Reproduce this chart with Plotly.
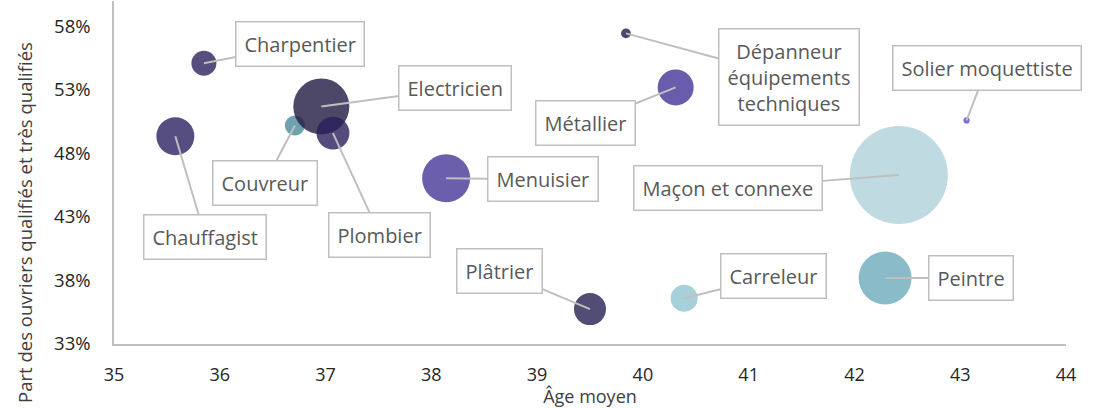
import plotly.graph_objects as go


# ---------------------------------------
# Data
# ---------------------------------------

metiers = [
    "Chauffagist",
    "Charpentier",
    "Couvreur",
    "Electricien",
    "Plombier",
    "Menuisier",
    "Plâtrier",
    "Dépanneur équipements techniques",
    "Métallier",
    "Carreleur",
    "Maçon et connexe",
    "Peintre",
    "Solier moquettiste",
]

age_moyen = [35.58, 35.85, 36.71, 36.96, 37.07, 38.14, 39.50, 39.84, 40.31, 40.39, 42.42, 42.29, 43.06]

part_qualifies = [0.4935, 0.551, 0.502, 0.517, 0.496, 0.4605, 0.3575, 0.5745, 0.532, 0.366, 0.463, 0.382, 0.506]

effectifs = [15.0, 6.5, 4.2, 32.7, 11.3, 24.0, 10.7, 1.0, 13.5, 7.6, 100.0, 29.2, 0.4]

y_ticks = [0.33, 0.38, 0.43, 0.48, 0.53, 0.58]
x_ticks = [35, 36, 37, 38, 39, 40, 41, 42, 43, 44]


# ---------------------------------------
# Styles
# ---------------------------------------

couleurs = [
    "#2c2260", "#2d225e", "#4a8b9c", "#221a42", "#2a1f5b", "#463697", "#272052",
    "#1f194c", "#453397", "#92c4d2", "#b0d1db", "#6daabb", "#5f4bce",
]

# label box offset (pixels) from bubble centre
decalages = {
    "Chauffagist": (30, 101),
    "Charpentier": (96, -19),
    "Couvreur": (-30, 57),
    "Electricien": (134, -18),
    "Plombier": (47, 102),
    "Menuisier": (97, 1),
    "Plâtrier": (-91, -38),
    "Dépanneur équipements techniques": (163, 44),
    "Métallier": (-90, 36),
    "Carreleur": (89, -22),
    "Maçon et connexe": (-171, 13),
    "Peintre": (86, 0),
    "Solier moquettiste": (20, -52),
}

textes = {
    "Dépanneur équipements techniques": "Dépanneur<br>équipements<br>techniques",
}

police = "Open Sans"

fig = go.Figure(

    go.Scatter(

        x=age_moyen,

        y=part_qualifies,

        mode="markers",

        text=metiers,

        marker=dict(
            size=effectifs,
            sizemode="area",
            sizeref=2 * max(effectifs) / (98 ** 2),
            color=couleurs,
            opacity=0.8,
            line=dict(width=0),
        ),

        hoverinfo="text",
    )
)

for m, x, y in zip(metiers, age_moyen, part_qualifies):
    ax, ay = decalages[m]
    fig.add_annotation(
        x=x,
        y=y,
        ax=ax,
        ay=ay,
        text=textes.get(m, m),
        showarrow=True,
        arrowhead=0,
        arrowwidth=2,
        arrowcolor="#bfbfbf",
        standoff=0,
        bgcolor="white",
        bordercolor="#bfbfbf",
        borderwidth=1.5,
        borderpad=8,
        font=dict(family=police, size=20, color="#595959"),
    )

# y title, centred on the whole chart height like the original
fig.add_annotation(
    text="Part des ouvriers qualifiés et très qualifiés",
    xref="paper",
    yref="paper",
    x=-0.0935,
    y=0.356,
    textangle=-90,
    showarrow=False,
    xanchor="center",
    yanchor="middle",
    font=dict(family=police, size=18.5, color="#404040"),
)

fig.update_layout(

    width=1095,

    height=408,

    paper_bgcolor="white",

    plot_bgcolor="white",

    margin=dict(l=114, r=29, t=1, b=64),

    showlegend=False,

    font=dict(family=police, color="#262626"),

    xaxis=dict(
        range=[35, 44],
        tickvals=x_ticks,
        ticks="",
        ticklabelstandoff=14,
        showgrid=False,
        zeroline=False,
        showline=True,
        linecolor="#bfbfbf",
        linewidth=1.5,
        automargin=False,
        tickfont=dict(size=18, color="#262626"),
        title=dict(text="Âge moyen", font=dict(size=18, color="#404040"), standoff=3),
    ),

    yaxis=dict(
        range=[0.33, 0.60],
        tickvals=y_ticks,
        tickformat=".0%",
        ticks="",
        ticklabelstandoff=18,
        showgrid=False,
        zeroline=False,
        showline=True,
        linecolor="#bfbfbf",
        linewidth=1.5,
        automargin=False,
        tickfont=dict(size=18.5, color="#262626"),
    ),
)

fig.write_html(
    "out.html",
    config={"displayModeBar": False},
    post_script="document.body.style.margin='0';",
)
